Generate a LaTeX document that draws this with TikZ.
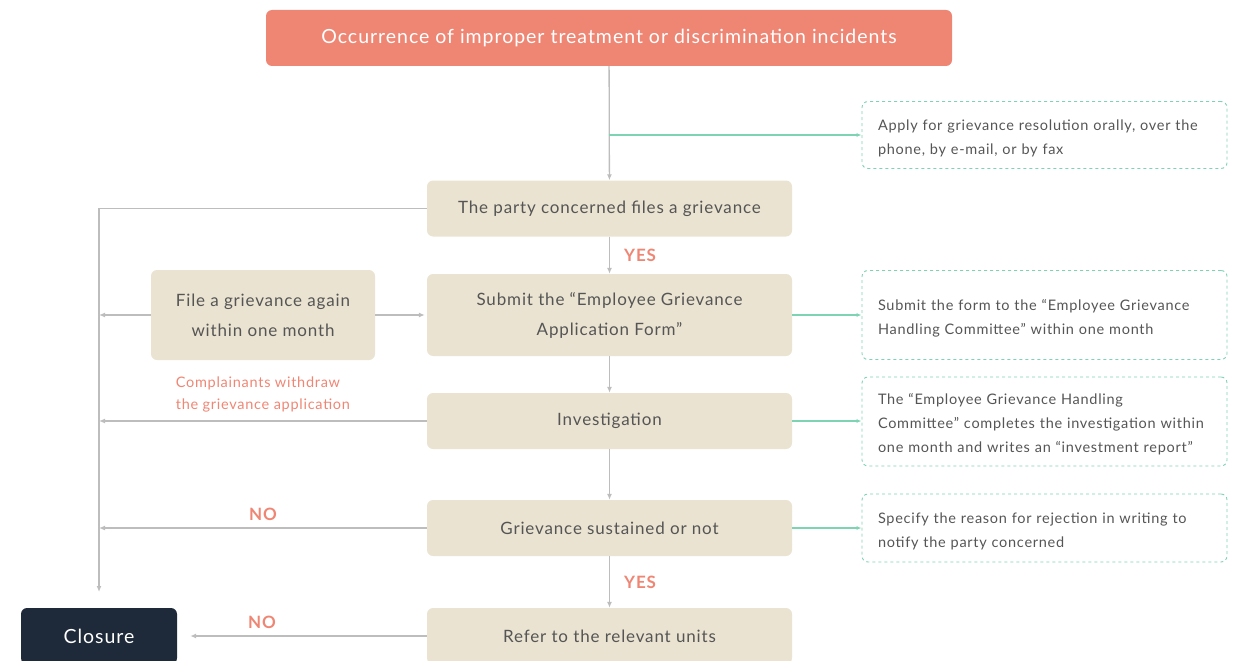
\documentclass[tikz,border=0pt]{standalone}
\usepackage{fontspec}
\setmainfont{Lato}[LetterSpace=5]
\usetikzlibrary{arrows.meta}

\definecolor{salmon}{HTML}{EF8674}
\definecolor{beige}{HTML}{EAE3D1}
\definecolor{navy}{HTML}{1E2A3A}
\definecolor{mint}{HTML}{7ED3B2}
\definecolor{linegrey}{HTML}{BDBDBD}
\definecolor{textgrey}{HTML}{555555}

\begin{document}
\begin{tikzpicture}[
    x=1pt, y=-1pt,
    stepbox/.style={rounded corners=6pt, fill=beige, text=textgrey, inner sep=0pt,
      minimum width=365pt, minimum height=56pt, align=center,
      font=\fontsize{17}{30}\selectfont},
    notebox/.style={draw=mint, line width=0.9pt, dash pattern=on 3pt off 3pt,
      rounded corners=6pt, text=textgrey, inner xsep=16pt, inner ysep=0pt,
      text width=333pt, align=left, font=\fontsize{14.5}{24}\selectfont},
    flow/.style={draw=linegrey, line width=1.3pt, -{Latex[length=6pt,width=5pt]}},
    side/.style={draw=mint, line width=1.1pt, -{Latex[length=5pt,width=4pt]}},
    answer/.style={text=salmon, inner sep=0pt, font=\bfseries\fontsize{17}{17}\selectfont}
  ]
  \useasboundingbox (0,0) rectangle (1237,661);

  % Main steps
  \node[stepbox, fill=salmon, text=white, minimum width=686pt,
    font=\fontsize{19.5}{24}\selectfont] (start) at (609,38)
    {Occurrence of improper treatment or discrimination incidents};
  \node[stepbox] (party) at (609.5,208.5) {The party concerned files a grievance};
  \node[stepbox, minimum height=82pt] (submit) at (609.5,315)
    {Submit the “Employee Grievance\\Application Form”};
  \node[stepbox] (invest) at (609.5,421) {Investigation};
  \node[stepbox] (sustain) at (609.5,528) {Grievance sustained or not};
  \node[stepbox] (refer) at (609.5,636) {Refer to the relevant units};
  \node[stepbox, minimum width=224pt, minimum height=90pt] (again) at (263,315)
    {File a grievance again\\within one month};
  \node[stepbox, fill=navy, text=white, minimum width=156pt,
    font=\fontsize{19.5}{24}\selectfont] (closure) at (99,636) {Closure};

  % Notes
  \node[notebox, minimum height=67pt] (n1) at (1044.5,135)
    {\strut Apply for grievance resolution orally, over the\\phone, by e-mail, or by fax};
  \node[notebox, minimum height=89pt] (n2) at (1044.5,315)
    {\strut Submit the form to the “Employee Grievance\\Handling Committee” within one month};
  \node[notebox, minimum height=89pt] (n3) at (1044.5,421.5)
    {\strut The “Employee Grievance Handling\\Committee” completes the investigation within\\one month and writes an “investment report”};
  \node[notebox, minimum height=68pt] (n4) at (1044.5,528)
    {\strut Specify the reason for rejection in writing to\\notify the party concerned};

  % Helper points
  \coordinate (branch) at (609,135);
  \coordinate (trunk) at (99,208.5);
  \coordinate (trunkend) at (99,592);

  % Down the middle
  \draw[flow] (start) -- (party);
  \draw[side] (branch) -- (n1.west);
  \draw[flow] (party) -- node[answer, right=14pt] {YES} (submit);
  \draw[flow] (submit) -- (invest);
  \draw[flow] (invest) -- (sustain);
  \draw[flow] (sustain) -- node[answer, right=14pt] {YES} (refer);

  % To the notes
  \draw[side] (submit.east) -- (n2.west);
  \draw[side] (invest.east) -- (invest.east -| n3.west);
  \draw[side] (sustain.east) -- (n4.west);

  % Left side
  \draw[flow] (party.west) -- (trunk) -- (trunkend);
  \draw[flow] (again.west) -- (again.west -| trunk);
  \draw[flow, shorten >=2pt] (again.east) -- (submit.west |- again.east);
  \draw[flow] (invest.west) -- node[above=8pt, inner sep=0pt, align=left, text=salmon,
    font=\fontsize{14.5}{22}\selectfont]
    {Complainants withdraw\\the grievance application} (invest.west -| trunk);
  \draw[flow] (sustain.west) -- node[answer, above=7pt] {NO} (sustain.west -| trunk);
  \draw[flow, shorten >=13pt] (refer.west) -- node[answer, above=7pt, pos=0.66] {NO} (closure.east);
\end{tikzpicture}
\end{document}
